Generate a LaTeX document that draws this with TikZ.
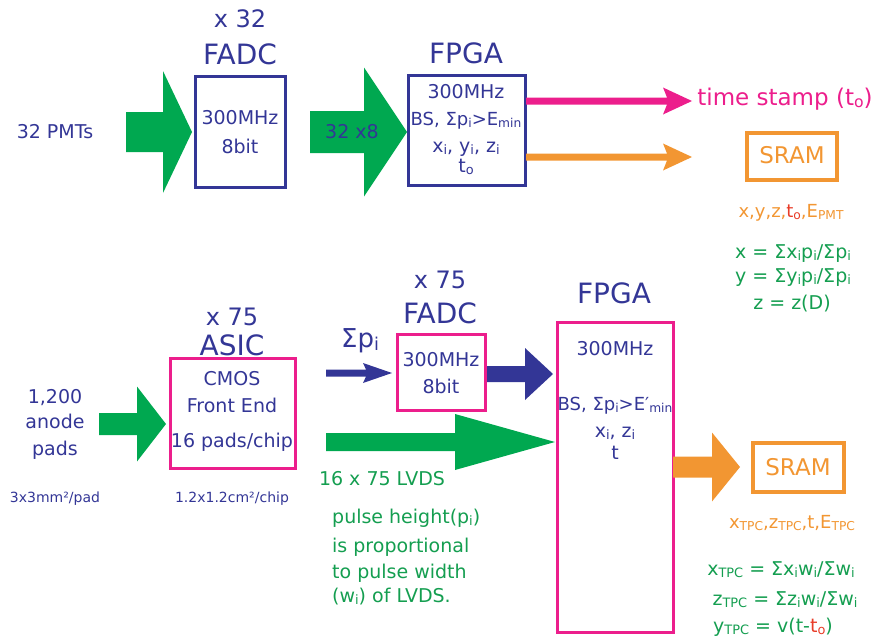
\documentclass[tikz,border=0pt]{standalone}
\usepackage{fontspec}
\usepackage{graphicx}
\setmainfont{DejaVu Sans}
\usetikzlibrary{calc}
\definecolor{navy}{RGB}{51,54,150}
\definecolor{fgreen}{RGB}{0,168,80}
\definecolor{tgreen}{RGB}{20,158,80}
\definecolor{pinkc}{RGB}{236,30,140}
\definecolor{orng}{RGB}{242,150,50}
\definecolor{redt}{RGB}{232,60,40}
% small lowered index
\newcommand\sbs[1]{\raisebox{-0.12em}{\scalebox{0.68}{#1}}}
\newcommand\fsz[1]{\fontsize{#1}{#1}\selectfont}
% block arrow: colour, start, tip, shaft half width, head length, head half width, inset
\newcommand\blockarr[7]{%
  \fill[#1] let \p1=(#2), \p2=(#3) in
    (\x1,\y1+#4) -- (\x2-#5+#7,\y1+#4) -- (\x2-#5,\y2+#6) -- (\x2,\y2)
    -- (\x2-#5,\y2-#6) -- (\x2-#5+#7,\y1-#4) -- (\x1,\y1-#4) -- cycle;}
\begin{document}
\begin{tikzpicture}[x=1pt,y=-1pt,
  t/.style={anchor=base, inner sep=0pt, text=navy, font=\fsz{19}},
  tl/.style={t, anchor=base west, text=tgreen},
  title/.style={t, font=\fsz{28}},
  mult/.style={t, font=\fsz{24}},
  gtxt/.style={t, text=tgreen},
  otxt/.style={t, text=orng, font=\fsz{18}},
  bx/.style={draw=#1, line width=3pt, inner sep=0pt, fill=none},
  sram/.style={draw=orng, line width=3.5pt, inner sep=0pt}]
\useasboundingbox (0,0) rectangle (884,643);

% ---------------- PMT chain ----------------
\node[mult] (x32) at (240,27) {x 32};
\node[title] (fadcT) at (240,64) {FADC};
\node[bx=navy, minimum width=90pt, minimum height=111pt] (fadc) at (240,131.5) {};
\node[t] (fadcA) at (240,124) {300MHz};
\node[t] (fadcB) at (240,153) {8bit};
\node[t] (pmt) at (55,138) {32 PMTs};

\node[title] (fpgaT) at (466,63) {FPGA};
\node[bx=navy, minimum width=117pt, minimum height=110pt] (fpga) at (466.5,130) {};
\node[t] (fpgaA) at (466,98) {300MHz};
\node[t, font=\fsz{18}] (fpgaB) at (466,125) {BS, Σp\sbs{i}>E\sbs{min}};
\node[t] (fpgaC) at (466,152) {x\sbs{i}, y\sbs{i}, z\sbs{i}};
\node[t] (fpgaD) at (466,172) {t\sbs{o}};

\coordinate (a1s) at (126,132); \coordinate (a1t) at (192,132);
\blockarr{fgreen}{a1s}{a1t}{20pt}{29pt}{61pt}{0pt}
\coordinate (a2s) at (310,132); \coordinate (a2t) at (407,132);
\blockarr{fgreen}{a2s}{a2t}{21pt}{43pt}{64.5pt}{0pt}
\node[t] (bus) at (352,138) {32 x8};

\coordinate (a3s) at (526,101); \coordinate (a3t) at (692,101);
\blockarr{pinkc}{a3s}{a3t}{3.5pt}{29pt}{13.5pt}{4pt}
\coordinate (a4s) at (526,157); \coordinate (a4t) at (692,157);
\blockarr{orng}{a4s}{a4t}{3.5pt}{29pt}{13.5pt}{4pt}

\node[t, text=pinkc, font=\fsz{23}] (stamp) at (785,105) {time stamp (t\sbs{o})};
\node[sram, minimum width=90pt, minimum height=47pt] (sramA) at (792,156.5) {};
\node[t, text=orng, font=\fsz{23}] (sramAt) at (792,163) {SRAM};
\node[otxt] (outA) at (791,217) {x,y,z,\textcolor{redt}{t\sbs{o}},E\sbs{PMT}};
\node[gtxt] (fx) at (793,258) {x = Σx\sbs{i}p\sbs{i}/Σp\sbs{i}};
\node[gtxt] (fy) at (793,282) {y = Σy\sbs{i}p\sbs{i}/Σp\sbs{i}};
\node[gtxt] (fz) at (792,309) {z = z(D)};

% ---------------- TPC chain ----------------
\node[mult] (x75a) at (232,325) {x 75};
\node[title] (asicT) at (232,355) {ASIC};
\node[bx=pinkc, minimum width=125pt, minimum height=110pt] (asic) at (232.5,413) {};
\node[t] (asicA) at (232,385) {CMOS};
\node[t] (asicB) at (232,412) {Front End};
\node[t] (asicC) at (232,447) {16 pads/chip};

\node[t] (padA) at (55,403) {1,200};
\node[t] (padB) at (55,428) {anode};
\node[t] (padC) at (55,455) {pads};
\node[t, font=\fsz{14}] (padsz) at (55,502) {3x3mm²/pad};
\node[t, font=\fsz{14}] (chipsz) at (232,502) {1.2x1.2cm²/chip};

\coordinate (a5s) at (99,424); \coordinate (a5t) at (166,424);
\blockarr{fgreen}{a5s}{a5t}{11pt}{29pt}{37.5pt}{0pt}

\node[t, font=\fsz{26}] (sump) at (360,347) {Σp\sbs{i}};
\coordinate (a6s) at (326,373); \coordinate (a6t) at (392,373);
\blockarr{navy}{a6s}{a6t}{3.5pt}{29pt}{10pt}{3pt}

\node[mult] (x75b) at (440,288) {x 75};
\node[title] (fadc2T) at (440,323) {FADC};
\node[bx=pinkc, minimum width=88pt, minimum height=76pt] (fadc2) at (441,372) {};
\node[t] (fadc2A) at (441,366) {300MHz};
\node[t] (fadc2B) at (441,393) {8bit};

\coordinate (a7s) at (487,374); \coordinate (a7t) at (553,374);
\blockarr{navy}{a7s}{a7t}{8pt}{28pt}{26pt}{0pt}
\coordinate (a8s) at (326,442); \coordinate (a8t) at (555,442);
\blockarr{fgreen}{a8s}{a8t}{9pt}{100pt}{28pt}{0pt}

\node[gtxt] (lvds) at (382,485) {16 x 75 LVDS};
\node[tl] (noteA) at (332,523) {pulse height(p\sbs{i})};
\node[tl] (noteB) at (332,552) {is proportional};
\node[tl] (noteC) at (332,578) {to pulse width};
\node[tl] (noteD) at (332,602) {(w\sbs{i}) of LVDS.};

\node[title] (fpga2T) at (614,303) {FPGA};
\node[bx=pinkc, minimum width=116pt, minimum height=310pt] (fpga2) at (615,477) {};
\node[t] (fpga2A) at (615,355) {300MHz};
\node[t, font=\fsz{18}] (fpga2B) at (615,410) {BS, Σp\sbs{i}>E′\sbs{min}};
\node[t] (fpga2C) at (615,437) {x\sbs{i}, z\sbs{i}};
\node[t] (fpga2D) at (615,459) {t};

\coordinate (a9s) at (673,467); \coordinate (a9t) at (740,467);
\blockarr{orng}{a9s}{a9t}{10.5pt}{28pt}{34.5pt}{0pt}

\node[sram, minimum width=91pt, minimum height=49pt] (sramB) at (798.5,467.5) {};
\node[t, text=orng, font=\fsz{23}] (sramBt) at (798,475) {SRAM};
\node[otxt] (outB) at (792,528) {x\sbs{TPC},z\sbs{TPC},t,E\sbs{TPC}};
\node[gtxt] (gx) at (781,575) {x\sbs{TPC} = Σx\sbs{i}w\sbs{i}/Σw\sbs{i}};
\node[gtxt] (gz) at (785,605) {z\sbs{TPC} = Σz\sbs{i}w\sbs{i}/Σw\sbs{i}};
\node[gtxt] (gy) at (773,632) {y\sbs{TPC} = v(t-\textcolor{redt}{t\sbs{o}})};
\end{tikzpicture}
\end{document}
